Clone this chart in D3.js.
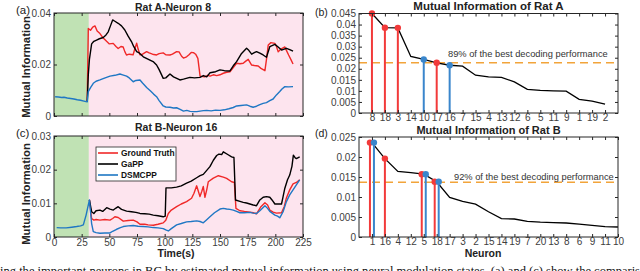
<!DOCTYPE html>
<html>
<head>
<meta charset="utf-8">
<script src="https://cdn.jsdelivr.net/npm/d3@7"></script>
<style>
  body { margin: 0; background: #fff; }
  svg { display: block; font-family: "Liberation Sans", Arial, sans-serif; }
</style>
</head>
<body>
<svg id="chart" width="640" height="271"></svg>
<script>
// ---- data ----
// left panels: time (s) vs mutual information; shared early segment (green phase)
var ratA_pre = [[1,0.0075],[4,0.0074],[7,0.0072],[9,0.0073],[12,0.0070],[15,0.0068],[18,0.0066],[21,0.0063],[24,0.0061],[27,0.0058],[30,0.0055]];
var ratA_truth = [[31,0.034],[33,0.0333],[35,0.0345],[37,0.035],[39,0.033],[41.5,0.032],[44,0.0305],[47.5,0.029],[50,0.028],[53.5,0.0282],[56,0.027],[58,0.0262],[60.5,0.027],[62.5,0.0268],[64,0.025],[65.5,0.0237],[68,0.024],[71.5,0.0238],[73,0.026],[74.7,0.0283],[76,0.026],[77.7,0.0238],[80,0.024],[83.7,0.025],[86,0.0245],[89,0.024],[92.7,0.0237],[95,0.0242],[98.7,0.0245],[101,0.0238],[104.8,0.0237],[107,0.024],[110.8,0.025],[113,0.0249],[115.3,0.0232],[117,0.0225],[119.8,0.023],[122,0.0238],[124,0.0247],[126,0.0246],[128,0.024],[130,0.0224],[131,0.019],[132,0.0155],[136,0.0152],[139,0.0158],[141,0.0155],[144,0.016],[147,0.0157],[150,0.016],[153,0.0166],[156,0.017],[159,0.0172],[162,0.0188],[165,0.0205],[168,0.0203],[171,0.0205],[173,0.0212],[175.5,0.022],[178.6,0.0198],[181,0.0196],[184.5,0.0194],[187,0.0185],[190.6,0.0176],[192,0.022],[193.6,0.0276],[196,0.0285],[199.6,0.0282],[201,0.027],[202.6,0.0249],[205,0.026],[208.6,0.0268],[210,0.0255],[212,0.0237],[214,0.022],[216,0.0202]];
var ratA_gapp = [[31,0.016],[32,0.022],[34,0.028],[36,0.029],[38.5,0.0295],[41,0.03],[44.5,0.0305],[47,0.0315],[49,0.0327],[51,0.035],[53,0.0373],[55,0.0368],[58,0.036],[61,0.035],[64,0.0334],[67,0.031],[70,0.0289],[72,0.027],[74.7,0.025],[77,0.0245],[80.7,0.023],[83,0.0225],[86.7,0.0217],[90,0.021],[92.7,0.0198],[95,0.018],[98.7,0.0146],[101,0.0148],[104.8,0.0163],[108,0.0152],[113.8,0.014],[117,0.0143],[122.8,0.015],[127,0.0148],[131.9,0.015],[135,0.0157],[138,0.0152],[141,0.0168],[146,0.0172],[150,0.0179],[154,0.0176],[159,0.0175],[162,0.0195],[165,0.0211],[169.5,0.0243],[174,0.0263],[176,0.0255],[178.6,0.024],[181,0.0246],[183,0.025],[186,0.0244],[189,0.0237],[192,0.0228],[195,0.0269],[199.6,0.0278],[202,0.027],[205.6,0.0256],[208,0.026],[210,0.0263],[213,0.0258],[216,0.0252]];
var ratA_dsmcpp = [[31,0.0095],[33,0.011],[35.5,0.0127],[38,0.0135],[41.5,0.014],[45,0.0146],[50.6,0.0155],[55,0.0158],[59.6,0.0163],[62,0.016],[65.6,0.0155],[68,0.0148],[71.6,0.0133],[74,0.0138],[77.7,0.014],[80,0.0128],[83.7,0.0111],[87,0.0098],[90,0.0085],[92.7,0.0075],[95,0.006],[98.7,0.0039],[101,0.0035],[104.8,0.0034],[108,0.0031],[110.8,0.0032],[114,0.0026],[117,0.0019],[120,0.0022],[123,0.0018],[126,0.0017],[129,0.0017],[132,0.0019],[135,0.0021],[138,0.0022],[142,0.002],[146,0.0023],[150,0.0022],[154,0.0024],[158,0.0028],[162,0.0033],[165,0.0039],[169,0.0041],[174,0.0043],[177,0.0038],[180,0.0034],[183,0.0038],[186,0.0044],[189,0.0049],[192,0.0052],[195,0.006],[198,0.0066],[201,0.0082],[204,0.0095],[206,0.0105],[208.6,0.0114],[212,0.0113],[216,0.0114]];

var ratB_pre = [[2.4,0.0028],[6,0.0027],[11,0.0027],[16,0.0029],[20.5,0.0031],[24,0.0033],[26.5,0.0036],[29,0.0065],[32,0.011]];
var ratB_truth = [[34,0.0055],[36,0.005],[38,0.0052],[41.5,0.005],[46,0.0052],[50.6,0.005],[53,0.0055],[55,0.006],[58,0.0058],[62.6,0.0047],[67,0.0049],[71.6,0.005],[75,0.0045],[77.7,0.0038],[82,0.0038],[85,0.0036],[89.7,0.0035],[94,0.0038],[98.7,0.0042],[101,0.005],[103.3,0.007],[106,0.008],[110.8,0.009],[115,0.0098],[119.8,0.0105],[124.3,0.0115],[126.5,0.013],[128.9,0.0152],[130.5,0.0135],[131.9,0.012],[133.5,0.0135],[134.9,0.015],[136.4,0.0118],[138,0.014],[139.4,0.0164],[144,0.0175],[148.5,0.0182],[153,0.0178],[156,0.0174],[160.5,0.0164],[163,0.0162],[164.4,0.0085],[168,0.0078],[172,0.0076],[177,0.0074],[180,0.0072],[183,0.0069],[187,0.009],[190.6,0.0102],[193,0.0095],[195,0.008],[198,0.0074],[201,0.0071],[205.6,0.0072],[208,0.009],[210,0.0116],[213,0.014],[216,0.0158],[219,0.0162],[222,0.017]];
var ratB_gapp = [[34,0.0075],[36,0.007],[38,0.0078],[41.5,0.008],[44,0.0076],[47.6,0.0087],[50.6,0.0083],[53.6,0.008],[56,0.0086],[58,0.009],[61,0.0082],[65.6,0.0077],[70,0.0075],[74,0.0073],[77.7,0.007],[82,0.0069],[86,0.0068],[89.7,0.0065],[94,0.0063],[98.7,0.006],[100.5,0.0062],[101.2,0.0146],[106,0.0146],[110.8,0.0148],[115,0.0152],[119.8,0.016],[124,0.0166],[128.9,0.0176],[132,0.0182],[134.9,0.0186],[138,0.0198],[140.9,0.0209],[144,0.0228],[147,0.0242],[149,0.0246],[151.5,0.0245],[153,0.0253],[157,0.0245],[160.5,0.0238],[162.6,0.0236],[164,0.011],[168,0.0106],[171,0.0103],[174,0.0101],[177,0.0098],[180,0.0095],[183,0.0093],[186,0.011],[189,0.0118],[192,0.012],[195,0.0118],[197,0.011],[199.6,0.0098],[203,0.0098],[205.6,0.0098],[207,0.012],[208.6,0.0145],[211,0.017],[213,0.0184],[215,0.021],[216.3,0.0243],[218,0.0235],[219,0.0233],[222,0.0238]];
var ratB_dsmcpp = [[34,0.004],[35.5,0.0016],[38,0.0013],[41.5,0.0011],[46,0.0012],[50.6,0.0012],[53,0.0017],[56.6,0.0023],[60,0.0028],[62.6,0.0031],[67,0.0033],[71.6,0.0034],[76,0.0032],[80.7,0.0031],[85,0.003],[89.7,0.0028],[94,0.0027],[98.7,0.0025],[101,0.0021],[103.3,0.0018],[106,0.0025],[110.8,0.0036],[115,0.004],[119.8,0.0045],[124,0.0046],[128.9,0.0048],[132,0.0046],[134.9,0.0042],[137.5,0.005],[140.9,0.006],[145,0.0072],[150,0.0083],[153,0.0085],[156,0.0083],[159,0.0082],[162,0.008],[165,0.0076],[168,0.0072],[172,0.0072],[177,0.0073],[180,0.0071],[183,0.007],[186,0.0078],[190.6,0.0093],[193,0.0085],[195,0.0076],[199.6,0.0065],[202,0.0062],[204,0.0057],[207,0.0075],[210,0.0105],[213,0.0125],[216,0.014],[219,0.0155],[222,0.017]];

var seriesNames = ["Ground Truth", "GaPP", "DSMCPP"];
var timeTicks = [0, 25, 50, 75, 100, 125, 150, 175, 200, 225];
var greenEnd = 31.5;

// right panels: neurons sorted by mutual information
var ratA_neurons = [8,18,3,14,10,17,16,7,15,4,13,12,6,5,11,9,1,19,2];
var ratA_mi = [0.045,0.0386,0.0385,0.0256,0.0242,0.0227,0.0216,0.0212,0.0171,0.0163,0.0161,0.0141,0.0107,0.0102,0.0100,0.0099,0.0062,0.0054,0.0040];
var ratA_red = [8,18,3,17];
var ratA_blue = [10,16];
var ratA_thresh = 0.0227;

var ratB_neurons = [1,16,4,12,5,18,17,3,2,15,14,19,7,20,13,8,6,9,11,10];
var ratB_mi = [0.0236,0.0196,0.0164,0.0161,0.0157,0.0138,0.0099,0.0089,0.0082,0.0063,0.0046,0.0045,0.0039,0.0037,0.0036,0.0035,0.0032,0.0029,0.0026,0.0025];
var ratB_red = [1,16,5,18];
var ratB_blue = [1,5,18];
var ratB_thresh = 0.0137;

// ---- drawing ----
var svg = d3.select("#chart");
var RED = "#f02828", BLACK = "#000", BLUE = "#1f77c4", ORANGE = "#f2a43a";
var AXC = "#262626", LBL = "#404040";

function fmt(d) { return d === 0 ? "0" : String(+d.toFixed(4)); }

function box(g, x, y, xt, yt, xfmt, yfmt, pad) {
  var xr = x.range(), yr = y.range();
  g.append("g").attr("transform", "translate(0," + yr[0] + ")")
    .call(d3.axisBottom(x).tickValues(xt).tickSizeInner(-3).tickSizeOuter(0).tickPadding(pad).tickFormat(xfmt));
  g.append("g").attr("transform", "translate(0," + yr[1] + ")")
    .call(d3.axisTop(x).tickValues(xt).tickSizeInner(-3).tickSizeOuter(0).tickFormat(""));
  g.append("g").attr("transform", "translate(" + xr[0] + ",0)")
    .call(d3.axisLeft(y).tickValues(yt).tickSizeInner(-3).tickSizeOuter(0).tickPadding(3).tickFormat(yfmt));
  g.append("g").attr("transform", "translate(" + xr[1] + ",0)")
    .call(d3.axisRight(y).tickValues(yt).tickSizeInner(-3).tickSizeOuter(0).tickFormat(""));
  g.selectAll(".domain").remove();
  g.selectAll(".tick line").attr("stroke", AXC);
  g.selectAll(".tick text").attr("fill", LBL).style("font-size", "10px");
  g.append("rect").attr("x", xr[0]).attr("y", yr[1])
    .attr("width", xr[1] - xr[0]).attr("height", yr[0] - yr[1])
    .attr("fill", "none").attr("stroke", AXC).attr("stroke-width", 1);
}

function timePanel(top, bottom, ymax, yt, pre, truth, gapp, dsmcpp, showX) {
  var x = d3.scaleLinear().domain([0, 225]).range([54, 303]);
  var y = d3.scaleLinear().domain([0, ymax]).range([bottom, top]);
  var g = svg.append("g");
  g.append("rect").attr("x", x(0)).attr("y", top).attr("width", x(greenEnd) - x(0))
    .attr("height", bottom - top).attr("fill", "#c0e2b4");
  g.append("rect").attr("x", x(greenEnd)).attr("y", top).attr("width", x(225) - x(greenEnd))
    .attr("height", bottom - top).attr("fill", "#fde4ee");
  var line = d3.line().x(function (d) { return x(d[0]); }).y(function (d) { return y(d[1]); });
  var last = pre[pre.length - 1];
  [[truth, RED], [gapp, BLACK], [dsmcpp, BLUE]].forEach(function (s, i) {
    var pts = (i === 2 ? pre : [last]).concat(s[0]);
    g.append("path").datum(pts).attr("d", line)
      .attr("fill", "none").attr("stroke", s[1]).attr("stroke-width", 1.4)
      .attr("stroke-linejoin", "round");
  });
  box(g, x, y, timeTicks, yt, showX ? function (d) { return d; } : function () { return ""; }, fmt, 2);
  return { x: x, y: y, g: g };
}

function neuronPanel(top, bottom, ymax, yt, neurons, mi, red, blue, thresh, label, lx, ly) {
  var x = d3.scaleLinear().domain([0, 20]).range([359, 618]);
  var y = d3.scaleLinear().domain([0, ymax]).range([bottom, top]);
  var g = svg.append("g");
  var both = red.filter(function (n) { return blue.indexOf(n) >= 0; });
  function pos(n, color) {
    var k = neurons.indexOf(n) + 1;
    var off = both.indexOf(n) >= 0 ? (color === RED ? -2 : 2) : 0;
    return x(k) + off;
  }
  var idx = d3.range(1, neurons.length + 1);
  // threshold
  g.append("line").attr("x1", x(0)).attr("x2", x(20))
    .attr("y1", y(thresh)).attr("y2", y(thresh))
    .attr("stroke", ORANGE).attr("stroke-width", 1.5).attr("stroke-dasharray", "8,5");
  g.append("text").attr("x", lx).attr("y", ly).attr("fill", "#333")
    .style("font-size", "9.3px").text(label);
  // curve
  g.append("path").datum(idx)
    .attr("d", d3.line().x(function (k) { return x(k); }).y(function (k) { return y(mi[k - 1]); }))
    .attr("fill", "none").attr("stroke", BLACK).attr("stroke-width", 1.3);
  // stems
  [[red, "#f23a3a"], [blue, "#3a86cc"]].forEach(function (s) {
    var c = s[1] === "#f23a3a" ? RED : BLUE;
    s[0].forEach(function (n) {
      var v = mi[neurons.indexOf(n)];
      var px = pos(n, c);
      g.append("line").attr("x1", px).attr("x2", px).attr("y1", y(0)).attr("y2", y(v))
        .attr("stroke", s[1]).attr("stroke-width", 2);
      g.append("circle").attr("cx", px).attr("cy", y(v)).attr("r", 3.2).attr("fill", s[1]);
    });
  });
  box(g, x, y, idx, yt, function (k) { return neurons[k - 1]; }, fmt, 1);
  return g;
}

timePanel(13, 116, 0.04, [0, 0.02, 0.04], ratA_pre, ratA_truth, ratA_gapp, ratA_dsmcpp, false);
timePanel(136, 237, 0.03, [0, 0.01, 0.02, 0.03], ratB_pre, ratB_truth, ratB_gapp, ratB_dsmcpp, true);

// legend in (c)
var lg = svg.append("g");
lg.append("rect").attr("x", 96).attr("y", 147).attr("width", 80).attr("height", 34)
  .attr("fill", "#fff").attr("stroke", AXC).attr("stroke-width", 0.8);
[RED, BLACK, BLUE].forEach(function (c, i) {
  var yy = 153 + i * 11;
  lg.append("line").attr("x1", 98).attr("x2", 118).attr("y1", yy).attr("y2", yy)
    .attr("stroke", c).attr("stroke-width", 1.6);
  lg.append("text").attr("x", 121).attr("y", yy + 3).style("font-size", "8.4px")
    .style("font-weight", "bold").attr("fill", "#111").text(seriesNames[i]);
});

neuronPanel(13.5, 113, 0.045, d3.range(0, 0.0451, 0.005).map(function (v) { return +v.toFixed(3); }),
  ratA_neurons, ratA_mi, ratA_red, ratA_blue, ratA_thresh,
  "89% of the best decoding performance", 448, 57);
neuronPanel(137, 237, 0.025, d3.range(0, 0.0251, 0.005).map(function (v) { return +v.toFixed(3); }),
  ratB_neurons, ratB_mi, ratB_red, ratB_blue, ratB_thresh,
  "92% of the best decoding performance", 454, 180);

// titles and labels
function txt(x, y, s, size, weight, anchor, rot) {
  var t = svg.append("text").attr("x", x).attr("y", y).text(s)
    .style("font-size", size + "px").style("font-weight", weight || "normal")
    .attr("text-anchor", anchor || "start").attr("fill", "#222");
  if (rot) t.attr("transform", "rotate(-90," + x + "," + y + ")");
  return t;
}
txt(135, 11, "Rat A-Neuron 8", 10.5, "bold");
txt(135, 131, "Rat B-Neuron 16", 10.5, "bold");
txt(488.5, 10, "Mutual Information of Rat A", 11.5, "bold", "middle");
txt(488.5, 133.5, "Mutual Information of Rat B", 11, "bold", "middle");
txt(16, 14, "(a)", 11.5);
txt(16, 137, "(c)", 11.5);
txt(315, 16, "(b)", 10.5);
txt(315, 137, "(d)", 10.5);
txt(30, 67, "Mutual Information", 11.3, "bold", "middle", true);
txt(30, 194, "Mutual Information", 11.3, "bold", "middle", true);
txt(176, 257, "Time(s)", 10.5, "bold", "middle");
txt(483, 257, "Neuron", 10.5, "bold", "middle");

// cropped caption line under the figure
svg.append("text").attr("x", 0).attr("y", 275)
  .attr("textLength", 640).attr("lengthAdjust", "spacingAndGlyphs")
  .style("font-family", "'Liberation Serif', 'Times New Roman', serif").style("font-size", "13px")
  .attr("fill", "#111")
  .text("ing the important neurons in BC by estimated mutual information using neural modulation states. (a) and (c) show the comparis");
</script>
</body>
</html>
